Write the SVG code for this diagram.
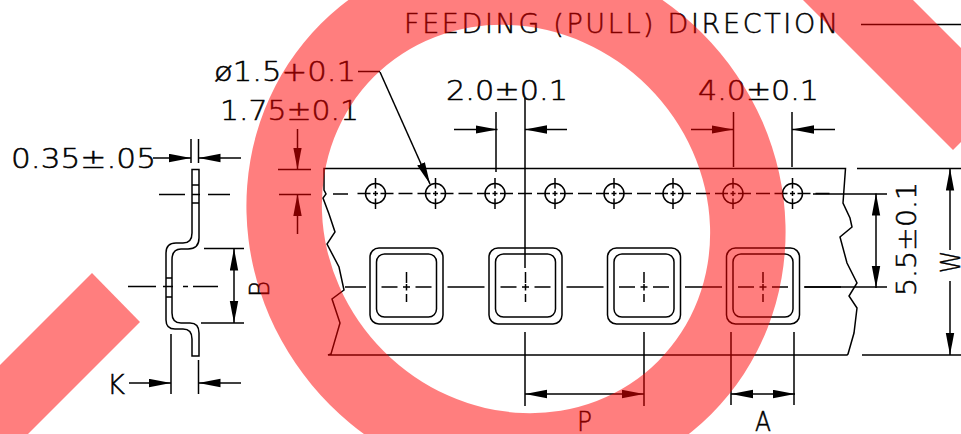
<svg xmlns="http://www.w3.org/2000/svg" width="961" height="434" viewBox="0 0 961 434">
<style>
.l{fill:none;stroke:#000;stroke-width:1.5}
.t{font-family:"DejaVu Sans",sans-serif;font-weight:200;font-size:27px;fill:#000;stroke:#000;stroke-width:.5}
.a{marker-end:url(#h)}
</style>
<defs>
<marker id="h" markerUnits="userSpaceOnUse" markerWidth="24" markerHeight="10" refX="22" refY="4.500" orient="auto"><path d="M0 0.300L22 4.500L0 8.700Z" fill="#000"/></marker>
<g id="hole" class="l"><circle r="10"/><path d="M-18 0H-5M-2.500 0H2.500M5 0H18M23 0H37M0 -15.500V-5M0 -2.500V2.500M0 5V15.500"/></g>
<g id="pocket" class="l"><rect x="-36.500" y="-38" width="73" height="76" rx="9"/><rect x="-30" y="-32" width="60" height="63" rx="8"/><path d="M-25 1H-9M-3.500 1H3.500M9 1H25M41 1H78M0 -14V-3M0 -2V4.500M0 8V16"/></g>
</defs>
<rect width="961" height="434" fill="#fff"/>
<g id="connectors">
<path class="l" d="M861 24.500H961"/>
<path class="l" d="M358 71.500H380"/>
<path class="l a" d="M380 72L430 184"/>
<path class="l a" d="M454 129.500H497.500"/>
<path class="l a" d="M567 129.500H525"/>
<path class="l a" d="M691 129.500H733.500"/>
<path class="l a" d="M835 129.500H792"/>
<path class="l" d="M496 112V172M525 98V268M733.500 112V167M792 112V167"/>
<path class="l a" d="M297.500 129V169.500"/>
<path class="l a" d="M297.500 234V194"/>
<path class="l" d="M278 169.500H311M279 194.500H311"/>
<path class="l a" d="M153 158H191"/>
<path class="l a" d="M241 158H198.500"/>
<path class="l" d="M191 139V163M198.500 139V163"/>
<path class="l a" d="M234 286V248.500"/>
<path class="l a" d="M234 286V323"/>
<path class="l" d="M204 248.500H244M201 323H244"/>
<path class="l a" d="M129 383H171"/>
<path class="l a" d="M241 383H198.500"/>
<path class="l" d="M171 334V394M198.500 360V394"/>
<path class="l a" d="M585 394H525"/>
<path class="l a" d="M585 394H644"/>
<path class="l" d="M525 332V406M644 332V406M731 332V405M794 332V405"/>
<path class="l a" d="M763 394H731"/>
<path class="l a" d="M763 394H795"/>
<path class="l a" d="M876 240V193.500"/>
<path class="l a" d="M876 240V288"/>
<path class="l" d="M805 287H887M813 194H887"/>
<path class="l a" d="M950 250V168.500"/>
<path class="l a" d="M950 281V355"/>
<path class="l" d="M857 168.500H961M862 355H961"/>
</g>
<g id="tape">
<path class="l" d="M324 168.500H845.500L843 203L850 218L852 227L840 237L847 263L857 283L849 296L857 308L854 333L848 354L847 355H328L331 354L340 323L332 299L344 290L339 267L327 244L335 232L329 214L323 198L326 194L324 190Z"/>
<path class="l" d="M333 194H348"/>
<use href="#hole" x="375.500" y="193.500"/>
<use href="#hole" x="435.500" y="193.500"/>
<use href="#hole" x="495" y="193.500"/>
<use href="#hole" x="555" y="193.500"/>
<use href="#hole" x="614" y="193.500"/>
<use href="#hole" x="673" y="193.500"/>
<use href="#hole" x="733" y="193.500"/>
<use href="#hole" x="792.500" y="193.500"/>
<path class="l" d="M345 287H366"/>
<use href="#pocket" x="406.500" y="286"/>
<use href="#pocket" x="525.500" y="286"/>
<use href="#pocket" x="644" y="286"/>
<use href="#pocket" x="763" y="286"/>
</g>
<g id="profile">
<path class="l" d="M192 169.500V233Q192 243 183 243H176Q166 243 166 253V320Q166 329 175 329H183Q192 329 192 339V356H199V333Q199 323 190 323H181Q172 323 172 313V260Q172 249 181 249H188Q199 249 199 238V169.500Z"/>
<path class="l" d="M192 185H199M192 203H199M166 278H172M166 297H172M159 194.500H185M192 194.500H200M208 194.500H230M128 286.500H156M163 286.500H173M183 286.500H188M193 286.500H218"/>
</g>
<g id="labels">
<text class="t" x="404" y="33" textLength="434" lengthAdjust="spacing">FEEDING (PULL) DIRECTION</text>
<text class="t" x="214" y="81" textLength="142" lengthAdjust="spacingAndGlyphs">ø1.5+0.1</text>
<text class="t" x="220" y="120" textLength="139" lengthAdjust="spacingAndGlyphs">1.75±0.1</text>
<text class="t" x="446" y="100" textLength="122" lengthAdjust="spacingAndGlyphs">2.0±0.1</text>
<text class="t" x="698" y="100" textLength="121" lengthAdjust="spacingAndGlyphs">4.0±0.1</text>
<text class="t" x="11" y="168" textLength="145" lengthAdjust="spacingAndGlyphs">0.35±.05</text>
<text class="t" x="107" y="394" textLength="18" lengthAdjust="spacingAndGlyphs">K</text>
<text class="t" transform="translate(269 297) rotate(-90)" textLength="16" lengthAdjust="spacingAndGlyphs">B</text>
<text class="t" transform="translate(916 296) rotate(-90)" textLength="114" lengthAdjust="spacingAndGlyphs">5.5±0.1</text>
<text class="t" transform="translate(960 273) rotate(-90)" textLength="22" lengthAdjust="spacingAndGlyphs">W</text>
<text class="t" x="577" y="431" textLength="15" lengthAdjust="spacingAndGlyphs">P</text>
<text class="t" x="755" y="431" textLength="16" lengthAdjust="spacingAndGlyphs">A</text>
</g>
<g id="overlay" opacity="0.5" fill="#f00">
<path fill-rule="evenodd" transform="translate(516 219) rotate(45)" d="M-276 0A276 263 0 1 0 276 0A276 263 0 1 0 -276 0ZM-201 0A201 187 0 1 0 201 0A201 187 0 1 0 -201 0Z"/>
<polygon points="92,273 140,322 28,434 0,434 0,365"/>
<polygon points="803,0 953,150 961,142 961,48 913,0"/>
</g>
</svg>
